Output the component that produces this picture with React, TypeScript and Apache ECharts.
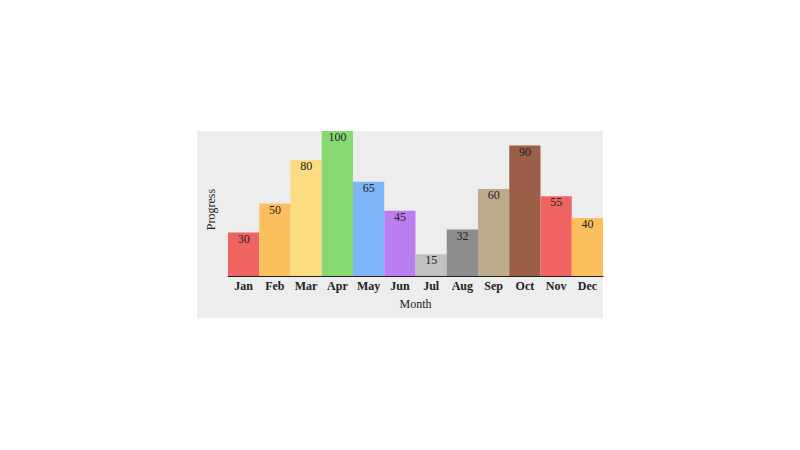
import React, { useEffect, useRef } from 'react';
import * as echarts from 'echarts';

const months = ['Jan', 'Feb', 'Mar', 'Apr', 'May', 'Jun', 'Jul', 'Aug', 'Sep', 'Oct', 'Nov', 'Dec'];
const progress = [30, 50, 80, 100, 65, 45, 15, 32, 60, 90, 55, 40];
const barColors = [
  '#f06363', '#fbbf5e', '#fbdc80', '#88d972', '#7fb4f7', '#bb7ef0',
  '#c1c1c1', '#8d8d8d', '#bcaa8b', '#9b5e47', '#f06363', '#fbbf5e'
];

const font = 'Liberation Serif, Times New Roman, serif';

export default function App() {
  const chartRef = useRef<HTMLDivElement>(null);

  useEffect(() => {
    if (!chartRef.current) return;
    const chart = echarts.init(chartRef.current, undefined, { renderer: 'svg' });

    chart.setOption({
      animation: false,
      textStyle: { fontFamily: font },
      graphic: [
        {
          type: 'rect',
          z: -10,
          silent: true,
          shape: { x: 197, y: 131, width: 406, height: 187 },
          style: { fill: '#ededed' }
        }
      ],
      grid: { left: 228, right: 197, top: 131, bottom: 174 },
      xAxis: {
        type: 'category',
        data: months,
        name: 'Month',
        nameLocation: 'middle',
        nameGap: 22,
        nameTextStyle: { fontFamily: font, fontSize: 12, color: '#222' },
        axisLine: { lineStyle: { color: '#222', width: 1 } },
        axisTick: { show: false },
        axisLabel: { fontFamily: font, fontSize: 12, fontWeight: 'bold', color: '#222', margin: 4 }
      },
      yAxis: {
        type: 'value',
        min: 0,
        max: 100,
        name: 'Progress',
        nameLocation: 'middle',
        nameGap: 11,
        nameTextStyle: { fontFamily: font, fontSize: 12, color: '#222', padding: [0, 12, 0, 0] },
        axisLine: { show: false },
        axisTick: { show: false },
        axisLabel: { show: false },
        splitLine: { show: false }
      },
      series: [
        {
          type: 'bar',
          barCategoryGap: 0,
          data: progress.map((v, i) => ({ value: v, itemStyle: { color: barColors[i] } })),
          label: {
            show: true,
            position: 'insideTop',
            distance: 0,
            fontFamily: font,
            fontSize: 12,
            color: '#222'
          }
        }
      ]
    });

    return () => {
      chart.dispose();
    };
  }, []);

  return (
    <div
      ref={chartRef}
      style={{ position: 'fixed', left: 0, top: 0, width: 800, height: 450, background: '#fff' }}
    />
  );
}
